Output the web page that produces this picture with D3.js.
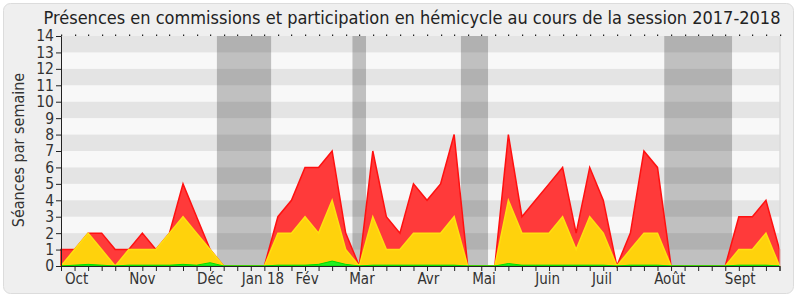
<!doctype html>
<html>
<head>
  <meta charset="UTF-8">
  <script src="https://d3js.org/d3.v7.min.js"></script>
  <style>
    body { margin: 0; background: #fff; }
    svg text { font-family: "DejaVu Sans Condensed", "DejaVu Sans", sans-serif; font-stretch: condensed; }
  </style>
</head>
<body>
<svg width="800" height="300"></svg>
<script>
// weekly values, week 0 = last week of Sept 2017
var weeks = d3.range(0, 54);
var totalSeances = [1,1,2,2,1,1,2,1,2,5,3,1,0,0,0,0,3,4,6,6,7,2,0,7,3,2,5,4,5,8,0,0,0,8,3,4,5,6,2,6,4,0,2,7,6,0,0,0,0,0,3,3,4,1];
var commissions  = [0,1,2,1,0,1,1,1,2,3,2,1,0,0,0,0,2,2,3,2,4,1,0,3,1,1,2,2,2,3,0,0,0,4,2,2,2,3,1,3,2,0,1,2,2,0,0,0,0,0,1,1,2,0];
var hemicycle    = [0,0.05,0.1,0.05,0,0.05,0.05,0.05,0.05,0.1,0.05,0.2,0,0,0,0,0.05,0.05,0.05,0.1,0.3,0.1,0,0.05,0.05,0.05,0.05,0.05,0.05,0.05,0,0,0,0.15,0.05,0.05,0.05,0.05,0.05,0.05,0.05,0,0.05,0.05,0.05,0,0,0,0,0,0.05,0.05,0.05,0];
// vacation weeks (grey bands), as [first week, last week]
var vacances = [[12,15],[22,22],[30,31],[45,49]];
var monthLabels = ["Oct","Nov","Déc","Jan 18","Fév","Mar","Avr","Mai","Juin","Juil","Août","Sept"];
var monthPos = [1.15,6,11,14.9,18.15,22.2,27.1,31.2,35.9,39.9,44.9,50.1];
var yTicks = d3.range(0, 15);

var svg = d3.select("svg");
var x = d3.scaleLinear().domain([0, 53]).range([61, 779.5]);
var y = d3.scaleLinear().domain([0, 14]).range([266, 36]);

// frame
svg.append("rect").attr("x", 3.5).attr("y", 3.5).attr("width", 790).attr("height", 290)
  .attr("rx", 7).attr("fill", "#efefef").attr("stroke", "#dcdcdc");

// plot background
svg.append("rect").attr("x", x(0)).attr("y", y(14)).attr("width", x(53) - x(0)).attr("height", y(0) - y(14))
  .attr("fill", "#f8f8f8");

svg.append("g").selectAll("rect").data(vacances).enter().append("rect")
  .attr("x", function(d) { return x(d[0] - 0.5); })
  .attr("width", function(d) { return x(d[1] + 0.5) - x(d[0] - 0.5); })
  .attr("y", y(14)).attr("height", y(0) - y(14))
  .attr("fill", "#c0c0c0");

// stripes
svg.append("g").selectAll("rect").data(yTicks.filter(function(v) { return v % 2 == 1; })).enter().append("rect")
  .attr("x", x(0)).attr("width", x(53) - x(0))
  .attr("y", function(d) { return y(d + 1); })
  .attr("height", function(d) { return y(d) - y(d + 1); })
  .attr("fill", "rgba(0,0,0,0.08)");

function area(vals) {
  return d3.area().x(function(d, i) { return x(i); }).y0(y(0)).y1(function(d) { return y(d); })(vals);
}

svg.append("path").attr("d", area(totalSeances)).attr("fill", "#ff3a3a").attr("stroke", "#ff1010").attr("stroke-width", 1.5);
svg.append("path").attr("d", area(commissions)).attr("fill", "#ffd20c").attr("stroke", "#ffe010").attr("stroke-width", 1.5);
svg.append("path").attr("d", area(hemicycle)).attr("fill", "#22ee22").attr("stroke", "#00dd00").attr("stroke-width", 1);

// right border
svg.append("line").attr("x1", x(53) + 0.5).attr("x2", x(53) + 0.5).attr("y1", y(14)).attr("y2", y(0))
  .attr("stroke", "#d0d0d0");

// top dots
svg.append("g").selectAll("rect").data(weeks).enter().append("rect")
  .attr("x", function(d) { return Math.round(x(d)); }).attr("y", y(14) - 1.5)
  .attr("width", 1.2).attr("height", 1.5).attr("fill", "#222");

// y axis
var yAxis = svg.append("g").attr("transform", "translate(" + x(0) + ",0)")
  .call(d3.axisLeft(y).tickValues(yTicks).tickSize(5).tickPadding(2).tickFormat(d3.format("d")));
yAxis.selectAll("text").attr("font-size", "15.5px").attr("fill", "#333");
yAxis.selectAll("line, path").attr("stroke", "#222");

// x axis
var xAxis = svg.append("g").attr("transform", "translate(0," + y(0) + ")")
  .call(d3.axisBottom(x).tickValues(weeks).tickSize(5).tickFormat(""));
xAxis.select(".domain").attr("stroke", "#222");
xAxis.selectAll("line").attr("stroke", "#222");

svg.append("g").selectAll("text").data(monthLabels).enter().append("text")
  .attr("x", function(d, i) { return x(monthPos[i]); })
  .attr("y", 284)
  .attr("text-anchor", "middle")
  .attr("font-size", "15px")
  .attr("fill", "#333")
  .text(function(d) { return d; });

svg.append("text")
  .attr("transform", "translate(24,150) rotate(-90)")
  .attr("text-anchor", "middle")
  .attr("font-size", "16px")
  .attr("fill", "#333")
  .text("Séances par semaine");

svg.append("text")
  .attr("x", 412).attr("y", 24)
  .attr("text-anchor", "middle")
  .attr("font-size", "18px")
  .attr("fill", "#222")
  .text("Présences en commissions et participation en hémicycle au cours de la session 2017-2018");
</script>
</body>
</html>
